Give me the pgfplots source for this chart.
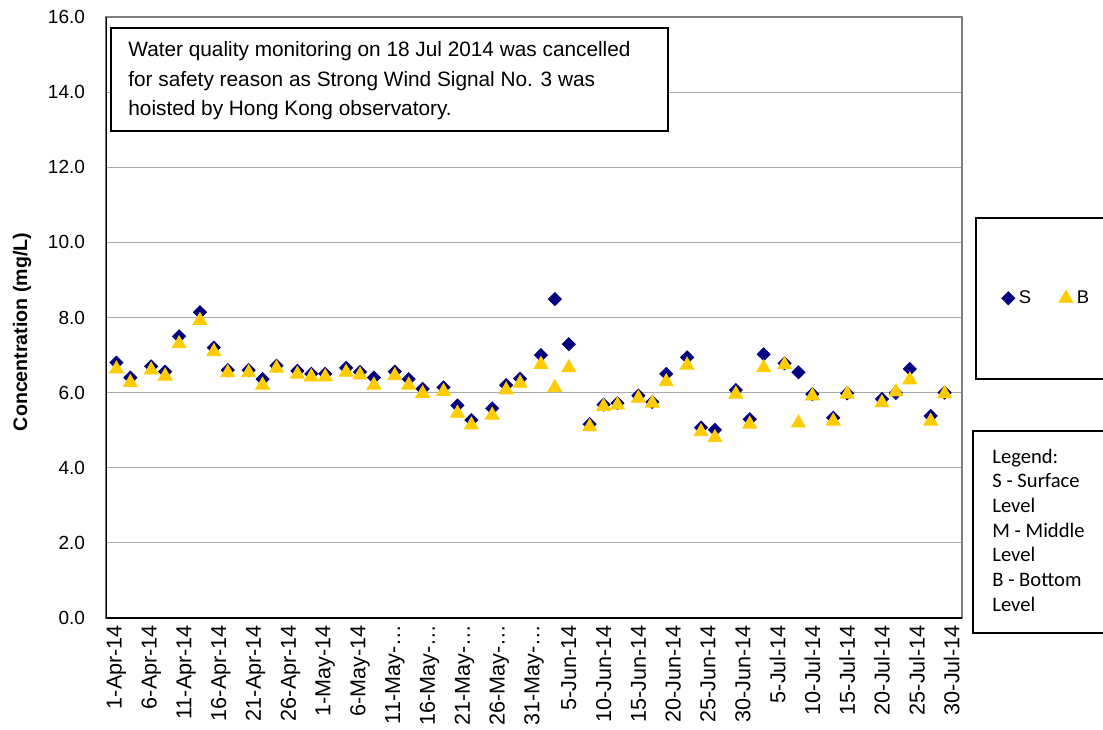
\documentclass[border=0pt]{standalone}
\usepackage{fontspec}
\setmainfont{Liberation Sans}
\newfontfamily\carlito{Carlito}
\usepackage{pgfplots}
\usepackage{pgfplotstable}
\pgfplotsset{compat=1.18}
\definecolor{navyS}{RGB}{0,0,128}
\definecolor{goldB}{RGB}{255,204,0}
\definecolor{gridgray}{RGB}{170,170,170}
\definecolor{bordergray}{RGB}{128,128,128}
\pgfplotsset{
  onemark legend/.style={legend image code/.code={\draw[##1] plot coordinates {(0pt,0pt)};}},
}

\pgfplotstableread{
d S B
1 6.80 6.63
3 6.40 6.27
6 6.70 6.60
8 6.56 6.44
10 7.50 7.30
13 8.14 7.92
15 7.20 7.09
17 6.60 6.53
20 6.60 6.53
22 6.36 6.20
24 6.72 6.65
27 6.58 6.49
29 6.50 6.42
31 6.50 6.42
34 6.66 6.54
36 6.55 6.47
38 6.40 6.20
41 6.56 6.45
43 6.36 6.20
45 6.10 5.98
48 6.14 6.03
50 5.66 5.45
52 5.27 5.14
55 5.58 5.40
57 6.20 6.07
59 6.37 6.25
62 7.00 6.75
64 8.49 6.13
66 7.29 6.66
69 5.16 5.09
71 5.68 5.63
73 5.72 5.67
76 5.92 5.85
78 5.75 5.72
80 6.50 6.29
83 6.94 6.73
85 5.07 4.96
87 5.01 4.80
90 6.07 5.96
92 5.29 5.16
94 7.02 6.66
97 6.78 6.74
99 6.54 5.19
101 5.96 5.91
104 5.33 5.24
106 5.98 5.96
111 5.83 5.73
113 5.99 6.02
115 6.63 6.34
118 5.38 5.24
120 6.00 5.97
}\datatable

\begin{document}
\begin{tikzpicture}
\path[use as bounding box] (-53pt,-55.5pt) rectangle (498.5pt,309pt);
\begin{axis}[
  at={(0pt,0pt)}, anchor=south west,
  scale only axis, width=428pt, height=300.5pt,
  xmin=-0.5, xmax=122.5, ymin=0, ymax=16,
  xtick={0,5,...,120},
  xticklabels={1-Apr-14,6-Apr-14,11-Apr-14,16-Apr-14,21-Apr-14,26-Apr-14,1-May-14,6-May-14,
    {11-May-…\hspace{-6pt}},{16-May-…\hspace{-6pt}},{21-May-…\hspace{-6pt}},{26-May-…\hspace{-6pt}},{31-May-…\hspace{-6pt}},
    5-Jun-14,10-Jun-14,15-Jun-14,20-Jun-14,25-Jun-14,30-Jun-14,5-Jul-14,10-Jul-14,15-Jul-14,20-Jul-14,25-Jul-14,30-Jul-14},
  ytick={0,2,...,16},
  major tick length=0pt,
  ymajorgrids, grid style={color=gridgray, line width=0.6pt},
  axis line style={color=bordergray, line width=1pt},
  /pgf/number format/assume math mode=true,
  y tick label style={font=\fontsize{9.5}{11}\selectfont, /pgf/number format/.cd, fixed, fixed zerofill, precision=1, /tikz/.cd, xshift=-7pt},
  xticklabel style={font=\fontsize{10.8}{12}\selectfont, rotate=90, anchor=east, yshift=-3.5pt},
  legend style={at={(1.039,0.532)}, anchor=west, draw=none, fill=none,
    font=\fontsize{9.2}{11}\selectfont, legend columns=2,
    /tikz/every even column/.append style={column sep=12pt}},
]
\addplot[only marks, color=navyS, mark=square*, mark size=2.3pt, mark options={rotate=45, fill=navyS, draw=navyS},
  onemark legend] table[x=d, y=S] {\datatable};
\addlegendentry{S}
\addplot[only marks, color=goldB, mark=triangle*, mark size=4pt, mark options={fill=goldB, draw=goldB},
  onemark legend] table[x=d, y=B] {\datatable};
\addlegendentry{B}
\draw[black, line width=1pt] (rel axis cs:0,1) -- (rel axis cs:0,0) -- (rel axis cs:1,0);
\end{axis}
% y label
\node[rotate=90, font=\fontsize{9.8}{12}\selectfont\bfseries] at (-42pt,143pt) {Concentration (mg/L)};
% annotation box
\draw[black, line width=1pt, fill=white] (2.5pt,295pt) rectangle (281pt,243.5pt);
\begin{scope}[every node/.style={anchor=base west, inner sep=0pt, font=\fontsize{10.4}{12}\selectfont}]
\node at (11pt,280.5pt) {Water quality monitoring on 18 Jul 2014 was cancelled};
\node at (11pt,265.5pt) {for safety reason as Strong Wind Signal No. 3 was};
\node at (11pt,251pt) {hoisted by Hong Kong observatory.};
\end{scope}
% legend box 1
\draw[black, line width=0.7pt] (435pt,200pt) rectangle (505pt,119.5pt);
% legend box 2
\draw[black, line width=0.7pt] (433.5pt,93.5pt) rectangle (505pt,-7.5pt);
\begin{scope}[every node/.style={anchor=base west, inner sep=0pt, font=\carlito\fontsize{10.3}{12}\selectfont}]
\node at (443pt,77.5pt) {Legend:};
\node at (443pt,65.15pt) {S - Surface};
\node at (443pt,52.8pt) {Level};
\node at (443pt,40.45pt) {M - Middle};
\node at (443pt,28.1pt) {Level};
\node at (443pt,15.75pt) {B - Bottom};
\node at (443pt,3.4pt) {Level};
\end{scope}
\end{tikzpicture}
\end{document}
